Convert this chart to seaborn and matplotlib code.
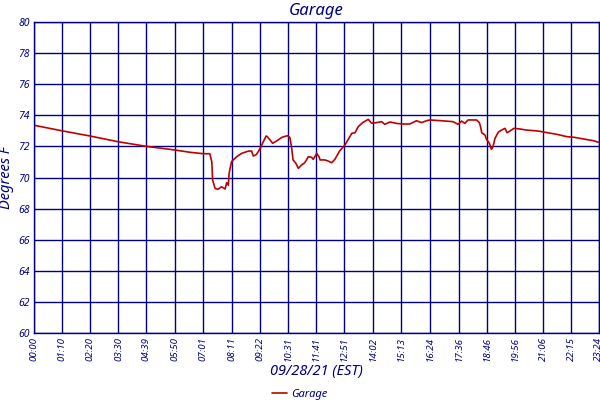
import matplotlib
matplotlib.use("Agg")
import matplotlib.pyplot as plt
import seaborn as sns
import pandas as pd

# Garage temperature, 09/28/21 (minutes after midnight, degrees F)
minutes = [0, 70, 139, 209, 280, 350, 388, 421, 437, 442, 444, 450, 457, 466,
           475, 479, 483, 485, 491, 504, 516, 533, 541, 545, 553, 562, 566, 577,
           580, 587, 593, 603, 616, 630, 636, 640, 644, 651, 657, 665, 673, 682,
           690, 694, 703, 709, 711, 723, 731, 740, 748, 760, 773, 781, 790, 798,
           806, 817, 831, 839, 852, 864, 872, 885, 901, 918, 934, 951, 963, 976,
           984, 1013, 1042, 1054, 1063, 1071, 1079, 1100, 1107, 1110, 1113, 1121,
           1125, 1132, 1137, 1141, 1146, 1154, 1162, 1171, 1176, 1183, 1193, 1208,
           1224, 1253, 1270, 1299, 1324, 1344, 1365, 1390, 1404]
temps = [73.36, 73.0, 72.67, 72.30, 72.0, 71.77, 71.62, 71.53, 71.53, 71.0, 69.84,
         69.3, 69.24, 69.4, 69.26, 69.67, 69.5, 70.27, 71.02, 71.34, 71.55, 71.70,
         71.70, 71.38, 71.48, 71.87, 72.09, 72.67, 72.62, 72.41, 72.20, 72.35, 72.58,
         72.69, 72.58, 71.98, 71.13, 70.91, 70.59, 70.80, 70.95, 71.34, 71.30, 71.17,
         71.55, 71.3, 71.13, 71.13, 71.06, 70.95, 71.17, 71.72, 72.09, 72.45, 72.84,
         72.88, 73.27, 73.53, 73.74, 73.49, 73.53, 73.59, 73.42, 73.57, 73.48, 73.44,
         73.44, 73.65, 73.53, 73.65, 73.70, 73.65, 73.59, 73.42, 73.63, 73.48, 73.70,
         73.70, 73.53, 73.27, 72.88, 72.73, 72.45, 72.20, 71.81, 71.98, 72.52, 72.91,
         73.05, 73.16, 72.88, 72.99, 73.16, 73.12, 73.05, 72.99, 72.91, 72.78, 72.63,
         72.58, 72.48, 72.37, 72.26]
tick_labels = ["00:00", "01:10", "02:20", "03:30", "04:39", "05:50", "07:01", "08:11",
               "09:22", "10:31", "11:41", "12:51", "14:02", "15:13", "16:24", "17:36",
               "18:46", "19:56", "21:06", "22:15", "23:24"]
y_ticks = list(range(60, 81, 2))

navy = "#000080"
red = "#c00000"

sns.set_theme(style="white")
plt.rcParams["font.family"] = ["Noto Sans", "DejaVu Sans"]

df = pd.DataFrame({"minutes": minutes, "Garage": temps})
tick_pos = [int(t[:2]) * 60 + int(t[3:]) for t in tick_labels]

fig = plt.figure(figsize=(6, 4), dpi=100)
ax = fig.add_axes([0.0567, 0.1675, 0.9413, 0.7775])
sns.lineplot(data=df, x="minutes", y="Garage", color=red, linewidth=1.2, ax=ax,
             label="Garage", legend=False)

ax.set_xlim(0, tick_pos[-1])
ax.set_ylim(60, 80)
ax.set_xticks(tick_pos)
ax.set_xticklabels(tick_labels, rotation=90, fontsize=7, style="italic", color=navy)
ax.set_yticks(y_ticks)
ax.set_yticklabels([str(v) for v in y_ticks], fontsize=7.5, style="italic", color=navy)
ax.tick_params(length=0, pad=3)
ax.grid(True, color=navy, linewidth=1)
for s in ax.spines.values():
    s.set_color(navy)
    s.set_linewidth(1)

ax.set_title("Garage", fontsize=12, fontweight="bold", style="italic", color=navy, pad=5)
ax.set_xlabel("09/28/21 (EST)", fontsize=10.5, style="italic", color=navy, labelpad=2)
ax.set_ylabel("Degrees F", fontsize=10.5, style="italic", color=navy, labelpad=3)

handles, labels = ax.get_legend_handles_labels()
leg = fig.legend(handles, labels, loc="lower center", bbox_to_anchor=(0.5, -0.025),
                 frameon=False, fontsize=8, handlelength=1.3, handletextpad=0.4)
for t in leg.get_texts():
    t.set_color(navy)
    t.set_style("italic")

fig.savefig("out.png", dpi=100)
